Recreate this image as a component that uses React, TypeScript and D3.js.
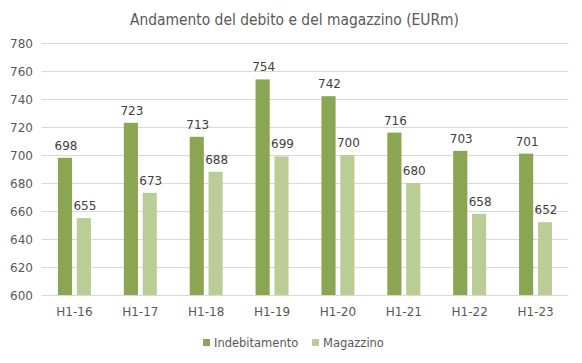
import React, { useEffect, useRef } from "react"
import * as d3 from "d3"

const categories = ["H1-16", "H1-17", "H1-18", "H1-19", "H1-20", "H1-21", "H1-22", "H1-23"]
const indebitamento = [698, 723, 713, 754, 742, 716, 703, 701]
const magazzino = [655, 673, 688, 699, 700, 680, 658, 652]
const seriesNames = ["Indebitamento", "Magazzino"]
const yTicks = [600, 620, 640, 660, 680, 700, 720, 740, 760, 780]

const W = 582
const H = 363
const colors = ["#8aa652", "#bacd97"]
const labelFont = "'DejaVu Sans', Verdana, sans-serif"

const App = () => {
  const ref = useRef<SVGSVGElement>(null)

  useEffect(() => {
    const svg = d3.select(ref.current)
    svg.selectAll("*").remove()

    const left = 41.5
    const right = 568.5
    const top = 43
    const bottom = 295

    const x = d3.scaleBand().domain(categories).range([left, right]).paddingInner(0).paddingOuter(0)
    const x1 = d3.scaleBand().domain(seriesNames).range([0, 33]).paddingInner(0.25)
    const y = d3.scaleLinear().domain([600, 780]).range([bottom, top])

    svg.append("rect").attr("width", W).attr("height", H).attr("fill", "#fff")

    // title
    svg.append("text")
      .attr("x", 130).attr("y", 25)
      .attr("textLength", 329)
      .attr("lengthAdjust", "spacingAndGlyphs")
      .style("font-family", "'DejaVu Sans Condensed', 'Liberation Sans Narrow', sans-serif")
      .style("font-size", "16px")
      .attr("fill", "#595959")
      .text("Andamento del debito e del magazzino (EURm)")

    // grid
    svg.append("g").selectAll("line").data(yTicks).enter().append("line")
      .attr("x1", left).attr("x2", right)
      .attr("y1", d => Math.round(y(d)) + 0.5).attr("y2", d => Math.round(y(d)) + 0.5)
      .attr("stroke", "#d9d9d9").attr("stroke-width", 1)

    svg.append("g").selectAll("text").data(yTicks).enter().append("text")
      .attr("x", 33).attr("y", d => y(d) + 4.5)
      .attr("text-anchor", "end")
      .style("font-family", labelFont).style("font-size", "12px")
      .attr("fill", "#595959")
      .text(d => d)

    // x labels
    svg.append("g").selectAll("text").data(categories).enter().append("text")
      .attr("x", d => x(d)! + x.bandwidth() / 2).attr("y", 316)
      .attr("text-anchor", "middle")
      .style("font-family", labelFont).style("font-size", "12px")
      .attr("fill", "#595959")
      .text(d => d)

    const groups = categories.map((c, i) => ({ c, vals: [indebitamento[i], magazzino[i]] }))
    const off = x.bandwidth() / 2 - 16.5

    const g = svg.append("g").selectAll("g").data(groups).enter().append("g")
      .attr("transform", d => "translate(" + (x(d.c)! + off) + ",0)")

    g.selectAll("rect").data(d => d.vals.map((v, k) => ({ v, k }))).enter().append("rect")
      .attr("x", d => x1(seriesNames[d.k])!)
      .attr("width", x1.bandwidth())
      .attr("y", d => y(d.v))
      .attr("height", d => bottom - y(d.v))
      .attr("fill", d => colors[d.k])

    g.selectAll("text").data(d => d.vals.map((v, k) => ({ v, k }))).enter().append("text")
      .attr("x", d => x1(seriesNames[d.k])! + x1.bandwidth() / 2 + 1)
      .attr("y", d => y(d.v) - 8)
      .attr("text-anchor", "middle")
      .style("font-family", labelFont).style("font-size", "12px")
      .attr("fill", "#404040")
      .text(d => d.v)

    // legend
    const legendX = [203, 312]
    seriesNames.forEach((name, k) => {
      svg.append("rect").attr("x", legendX[k]).attr("y", 339).attr("width", 7).attr("height", 7).attr("fill", colors[k])
      svg.append("text").attr("x", legendX[k] + 11).attr("y", 347)
        .style("font-family", labelFont).style("font-size", "11.5px")
        .attr("fill", "#595959")
        .text(name)
    })
  }, [])

  return (
    <div>
      <svg ref={ref} width={W} height={H} style={{ position: "absolute", left: 0, top: 0 }}></svg>
    </div>
  )
}

export default App
